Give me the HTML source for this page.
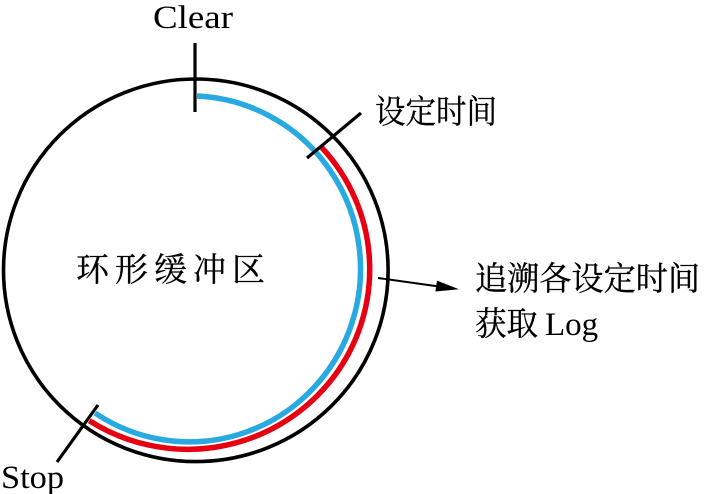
<!DOCTYPE html>
<html>
<head>
<meta charset="utf-8">
<style>
  html, body { margin: 0; padding: 0; background: #ffffff; }
  body { width: 707px; height: 494px; overflow: hidden; }
  svg { display: block; }
  text { font-family: "Liberation Serif", "Noto Serif CJK SC", serif; fill: #000; }
  .cjk { stroke: #000; stroke-width: 0.3; }
</style>
</head>
<body>
<svg width="707" height="494" viewBox="0 0 707 494" xmlns="http://www.w3.org/2000/svg">
  <rect x="0" y="0" width="707" height="494" fill="#ffffff"/>

  <!-- outer black circle -->
  <ellipse cx="195.8" cy="270.3" rx="192.3" ry="191.3" fill="none" stroke="#000" stroke-width="3.6"/>

  <!-- red arc -->
  <path d="M 320.8 146.5 A 182 180 0 0 1 89.3 420.7" fill="none" stroke="#e60012" stroke-width="5.5"/>

  <!-- blue arc -->
  <path d="M 197 96 A 171 173 0 1 1 95 413" fill="none" stroke="#29a9e1" stroke-width="5.5"/>

  <!-- ticks -->
  <line x1="195" y1="43" x2="195" y2="112" stroke="#000" stroke-width="3.2"/>
  <line x1="307" y1="158" x2="361" y2="113" stroke="#000" stroke-width="3.2"/>
  <line x1="57" y1="462" x2="98" y2="405" stroke="#000" stroke-width="3.2"/>

  <!-- arrow -->
  <line x1="378" y1="278" x2="438" y2="286.4" stroke="#000" stroke-width="2"/>
  <polygon points="459,289.3 437,280.6 435.4,291.5" fill="#000"/>

  <!-- labels -->
  <text x="153" y="28" font-size="33" textLength="80" lengthAdjust="spacingAndGlyphs">Clear</text>
  <text x="1" y="488" font-size="33" textLength="63" lengthAdjust="spacingAndGlyphs">Stop</text>
  <text class="cjk" x="375" y="123" font-size="33" textLength="122" lengthAdjust="spacingAndGlyphs">设定时间</text>
  <text class="cjk" x="76" y="281" font-size="33" textLength="189" lengthAdjust="spacing">环形缓冲区</text>
  <text class="cjk" x="475" y="290" font-size="33" textLength="225" lengthAdjust="spacingAndGlyphs">追溯各设定时间</text>
  <text x="475" y="335" font-size="33"><tspan class="cjk" textLength="63" lengthAdjust="spacingAndGlyphs">获取</tspan> <tspan x="545">Log</tspan></text>
</svg>
</body>
</html>
